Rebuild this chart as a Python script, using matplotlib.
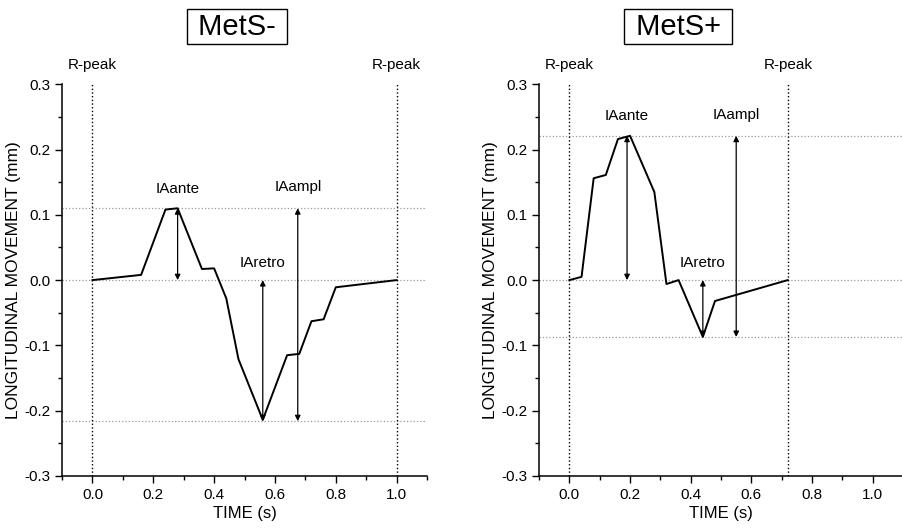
import numpy as np
import matplotlib
matplotlib.use('Agg')
import matplotlib.pyplot as plt
from matplotlib.ticker import MultipleLocator

plt.rcParams['font.family'] = ['Liberation Sans', 'DejaVu Sans']

# Longitudinal movement over one cardiac cycle (R-peak to R-peak)
t_minus = [0.00, 0.16, 0.24, 0.28, 0.36, 0.40, 0.44, 0.48, 0.56, 0.64, 0.68, 0.72, 0.76, 0.80, 1.00]
y_minus = [0.000, 0.008, 0.108, 0.110, 0.017, 0.018, -0.028, -0.121, -0.214, -0.115, -0.113, -0.063, -0.060, -0.011, 0.000]

t_plus = [0.00, 0.04, 0.08, 0.12, 0.16, 0.20, 0.28, 0.32, 0.36, 0.44, 0.48, 0.72]
y_plus = [0.000, 0.005, 0.156, 0.161, 0.216, 0.221, 0.135, -0.006, 0.000, -0.087, -0.032, 0.000]

# reference levels: peak, baseline, trough
levels_minus = [0.110, 0.0, -0.216]
levels_plus = [0.221, 0.0, -0.087]

# R-peak times
rpeaks_minus = [0.0, 1.0]
rpeaks_plus = [0.0, 0.72]

# x positions of the IAante / IAretro / IAampl arrows
arrows_minus = [0.28, 0.56, 0.675]
arrows_plus = [0.19, 0.44, 0.55]

groups = [
    ('MetS-', t_minus, y_minus, levels_minus, rpeaks_minus, arrows_minus),
    ('MetS+', t_plus, y_plus, levels_plus, rpeaks_plus, arrows_plus),
]

fig = plt.figure(figsize=(9.03, 5.28), dpi=100)
ax_pos = [[0.0687, 0.0985, 0.4042, 0.742], [0.597, 0.0985, 0.403, 0.742]]
title_x = [0.2625, 0.751]

for i, (name, t, y, lev, rp, arr) in enumerate(groups):
    ax = fig.add_axes(ax_pos[i])
    top, base, bottom = lev

    for yl in lev:
        ax.axhline(yl, color='#9a9a9a', linestyle=':', linewidth=0.9, zorder=1)
    for xr in rp:
        ax.axvline(xr, color='black', linestyle=':', linewidth=1.0, zorder=1)
        ax.text(xr, 0.329, 'R-peak', ha='center', va='center', fontsize=11)

    ax.plot(t, y, color='black', linewidth=1.4, zorder=3)

    arrow_spans = [(top, base), (base, bottom), (top, bottom)]
    arrow_names = ['IAante', 'IAretro', 'IAampl']
    label_y = [top + 0.03, base + 0.026, top + 0.032]
    for xa, (y0, y1), lab, ly in zip(arr, arrow_spans, arrow_names, label_y):
        ax.annotate('', xy=(xa, y1), xytext=(xa, y0),
                    arrowprops=dict(arrowstyle='<|-|>', color='black', lw=0.9,
                                    mutation_scale=8, shrinkA=0, shrinkB=0))
        ax.text(xa, ly, lab, ha='center', va='center', fontsize=11)

    ax.set_xlim(-0.1, 1.1)
    ax.set_ylim(-0.3, 0.3)
    ax.xaxis.set_major_locator(MultipleLocator(0.2))
    ax.xaxis.set_minor_locator(MultipleLocator(0.1))
    ax.yaxis.set_major_locator(MultipleLocator(0.1))
    ax.yaxis.set_minor_locator(MultipleLocator(0.05))
    ax.xaxis.set_major_formatter(plt.FormatStrFormatter('%.1f'))
    ax.yaxis.set_major_formatter(plt.FormatStrFormatter('%.1f'))
    ax.tick_params(which='both', direction='out', labelsize=11, width=1)
    ax.tick_params(which='major', length=5)
    ax.tick_params(which='minor', length=3)
    ax.spines['top'].set_visible(False)
    ax.spines['right'].set_visible(False)
    ax.spines['left'].set_linewidth(1.1)
    ax.spines['bottom'].set_linewidth(1.1)
    ax.set_xlabel('TIME (s)', fontsize=12, labelpad=3)
    ax.set_ylabel('LONGITUDINAL MOVEMENT (mm)', fontsize=12.5, labelpad=2)

    fig.text(title_x[i], 0.949, ' ' + name + ' ', ha='center', va='center', fontsize=21,
             bbox=dict(boxstyle='square,pad=0.12', facecolor='white',
                       edgecolor='black', linewidth=1))

fig.savefig('out.png', dpi=100)
